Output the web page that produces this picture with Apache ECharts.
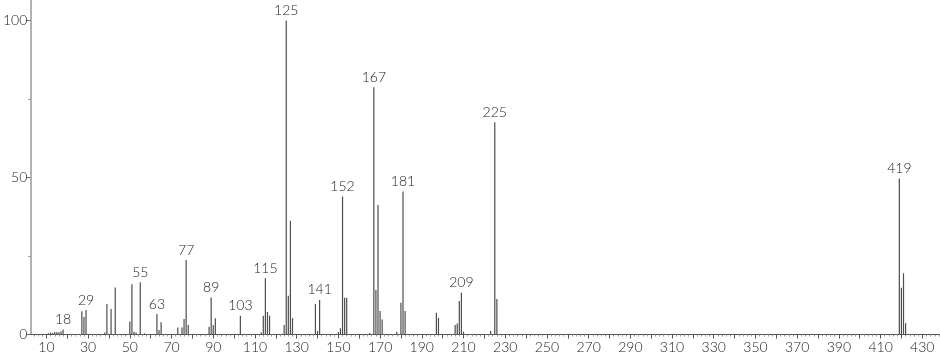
<!DOCTYPE html>
<html>
<head>
<meta charset="utf-8">
<script src="https://cdn.jsdelivr.net/npm/echarts@6/dist/echarts.min.js"></script>
<style>
html,body{margin:0;padding:0;background:#fff;}
#chart{width:940px;height:356px;}
</style>
</head>
<body>
<div id="chart"></div>
<script>
// m/z values and relative intensities
const mzValues = [11,12,13,14,15,16,17,18,27,28,29,38,39,41,43,50,51,52,53,55,57,
  63,64,65,73,75,76,77,78,88,89,90,91,103,113,114,115,116,117,124,125,126,127,128,
  139,140,141,150,151,152,153,154,165,167,168,169,170,171,178,180,181,182,
  197,198,206,207,208,209,210,223,225,226,419,420,421,422];
const intensities = [0.4,0.6,0.5,0.8,0.8,0.7,1.0,1.6,7.4,5.6,7.8,0.6,9.7,8.1,15.0,4.1,16.0,0.9,0.6,16.6,0.4,
  6.5,1.4,3.9,2.2,2.2,4.9,23.7,3.0,2.5,11.8,3.0,5.2,6.0,0.6,6.0,17.9,7.2,6.0,3.0,100,12.3,36.2,5.2,
  9.7,1.1,11.0,0.8,2.0,43.9,11.7,11.7,0.5,78.7,14.2,41.2,7.5,4.8,0.9,10.1,45.5,7.5,
  6.9,5.3,3.0,3.5,10.7,13.3,0.9,1.1,67.6,11.3,49.7,14.9,19.5,3.6];
const labeledPeaks = [18,29,55,63,77,89,103,115,125,141,152,167,181,209,225,419];

const xLabelValues = [10,30,50,70,90,110,130,150,170,190,210,230,250,270,290,310,330,350,370,390,410,430];
const xMajorTicks = [10,20,30,40,50,60,70,80,90,100,110,120,130,140,150,160,170,180,190,200,210,
  220,230,240,250,260,270,280,290,300,310,320,330,340,350,360,370,380,390,400,410,420,430];
const yLabelValues = [0,50,100];
const yMinorTicks = [25,75];

const xMinorTicks = [];
for (let v = 4; v <= 438; v += 2) if (v % 10 !== 0) xMinorTicks.push(v);

const FONT = 'Lato, "Open Sans", sans-serif';

const data = mzValues.map((m, i) => {
  const item = { value: [m, intensities[i]] };
  if (labeledPeaks.includes(m)) item.label = { show: true };
  return item;
});

const chart = echarts.init(document.getElementById('chart'), null, { renderer: 'canvas' });
chart.setOption({
  animation: false,
  backgroundColor: '#ffffff',
  grid: { left: 29, right: 0, top: 0, bottom: 21.5, containLabel: false },
  xAxis: [{
    type: 'value', min: 2.3, max: 438.5,
    axisLine: { show: true, lineStyle: { color: '#555', width: 1 } },
    axisTick: { show: true, length: 4, customValues: xMajorTicks, lineStyle: { color: '#555' } },
    axisLabel: { customValues: xLabelValues, fontSize: 14, fontWeight: 300, color: '#222', fontFamily: FONT, margin: 6 },
    splitLine: { show: false }
  }, {
    type: 'value', min: 2.3, max: 438.5, position: 'bottom',
    axisLine: { show: false },
    axisTick: { show: true, length: 2, customValues: xMinorTicks, lineStyle: { color: '#999' } },
    axisLabel: { show: false },
    splitLine: { show: false }
  }],
  yAxis: [{
    type: 'value', min: 0, max: 106.5,
    axisLine: { show: true, lineStyle: { color: '#999', width: 1.5 } },
    axisTick: { show: true, length: 4, customValues: yLabelValues, lineStyle: { color: '#666' } },
    axisLabel: { customValues: yLabelValues, fontSize: 14, fontWeight: 300, color: '#222', fontFamily: FONT, margin: 3 },
    splitLine: { show: false }
  }, {
    type: 'value', min: 0, max: 106.5, position: 'left',
    axisLine: { show: false },
    axisTick: { show: true, length: 2, customValues: yMinorTicks, lineStyle: { color: '#888' } },
    axisLabel: { show: false },
    splitLine: { show: false }
  }],
  series: [{
    type: 'bar',
    xAxisIndex: 0, yAxisIndex: 0,
    barWidth: 1.2,
    itemStyle: { color: '#4d4d4d' },
    label: {
      show: false, position: 'top', distance: 3,
      fontSize: 14, fontWeight: 300, color: '#222', fontFamily: FONT,
      formatter: p => p.value[0]
    },
    data: data
  }]
});
</script>
</body>
</html>
